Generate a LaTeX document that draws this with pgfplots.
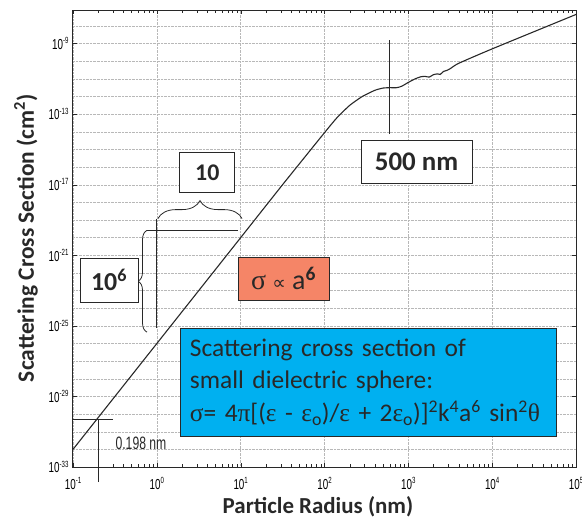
\documentclass[border=0pt]{standalone}
\usepackage{fontspec}
\setmainfont{Carlito}
\newfontfamily\tickfont[FakeStretch=0.68]{Liberation Sans}
\newfontfamily\grk{Liberation Serif}
\newfontfamily\dejavu{DejaVu Sans}
\usepackage{pgfplots}
\pgfplotsset{compat=1.18}
\usetikzlibrary{decorations.pathreplacing}
\definecolor{boxblue}{RGB}{0,176,240}
\definecolor{boxorange}{RGB}{245,133,103}
\definecolor{ink}{RGB}{40,40,40}

\newcommand{\tk}[1]{\pgfmathtruncatemacro\ex{round(#1)}{\tickfont\fontsize{14.5}{14.5}\selectfont 10\raisebox{5.5bp}{\fontsize{9}{9}\selectfont\ex}}}

\begin{document}
\begin{tikzpicture}
\begin{axis}[
  scale only axis, width=503bp, height=457bp,
  xmode=log, ymode=log, log basis x=10, log basis y=10,
  xmin=0.1, xmax=1e5, ymin=1e-33, ymax=8e-8,
  clip=false,
  xtick={0.1,1,10,100,1000,10000,100000},
  minor xtick={0.2,0.3,0.4,0.5,0.6,0.7,0.8,0.9,2,3,4,5,6,7,8,9,20,30,40,50,60,70,80,90,
    200,300,400,500,600,700,800,900,2000,3000,4000,5000,6000,7000,8000,9000,
    20000,30000,40000,50000,60000,70000,80000,90000},
  ytick={1e-33,1e-29,1e-25,1e-21,1e-17,1e-13,1e-9},
  minor ytick={1e-32,1e-31,1e-30,1e-28,1e-27,1e-26,1e-24,1e-23,1e-22,1e-20,1e-19,1e-18,
    1e-16,1e-15,1e-14,1e-12,1e-11,1e-10,1e-8},
  xmajorgrids=true, ymajorgrids=true, yminorgrids=true, xminorgrids=false,
  major grid style={densely dotted, black!28},
  minor grid style={densely dotted, black!28},
  minor y tick style={draw=none},
  axis line style={ink, line width=1bp},
  tick style={ink},
  xticklabel={\tk{\tick}},
  yticklabel={\tk{\tick}},
  xticklabel style={yshift=-7bp},
  yticklabel style={xshift=-1bp},
  xlabel={\fontsize{23}{23}\selectfont\bfseries Particle Radius (nm)},
  ylabel={\fontsize{23.5}{23.5}\selectfont\bfseries Scattering Cross Section (cm\textsuperscript{2})},
  xlabel style={at={(axis description cs:0.487,0)}, anchor=base, yshift=-46bp, text=ink},
  ylabel style={at={(axis description cs:-0.078,0.501)}, anchor=base, text=ink},
]
\addplot[ink, line width=1.1bp, smooth, tension=0.35] coordinates {
  (0.1,1e-32) (1,1e-26) (10,1e-20) (31.6,1e-17) (100,8.91e-15) (141,6.31e-14)
  (200,3.16e-13) (282,1e-12) (398,2.24e-12) (501,3.02e-12) (603,3.16e-12)
  (724,3.16e-12) (832,3.80e-12) (1000,6.31e-12) (1202,1e-11) (1413,1.32e-11)
  (1585,1.38e-11) (1778,1.26e-11) (1995,1.74e-11) (2239,1.91e-11) (2399,1.78e-11)
  (2630,2.63e-11) (2884,3.02e-11) (3162,3.80e-11) (3981,7.59e-11) (10000,5.01e-10)
  (100000,4.47e-8)
};

% 500 nm marker
\draw[ink, line width=0.8bp] (axis cs:589,1.5e-9) -- (axis cs:589,7.9e-15);
\node[draw=ink, fill=white, line width=0.8bp, minimum width=111bp, minimum height=43bp,
  font=\fontsize{27}{27}\selectfont\bfseries, text=ink] at (axis cs:1253,1.95e-16) {500 nm};

% 0.198 nm marker
\draw[ink, line width=0.7bp] (axis cs:0.198,1.4e-34) -- (axis cs:0.198,5.2e-31);
\draw[ink, line width=0.7bp] (axis cs:0.1,5.2e-31) -- (axis cs:0.3,5.2e-31);
\node[font=\tickfont\fontsize{18}{18}\selectfont, text=ink] at (axis cs:0.647,2.3e-32) {0.198 nm};

% slope triangle
\draw[ink, line width=0.8bp, decorate, decoration={brace, amplitude=18bp}]
  (axis cs:1.03,1.2e-19) -- (axis cs:10.4,1.2e-19);
\draw[ink, line width=0.8bp] (axis cs:0.764,2.6e-20) -- (axis cs:9.3,2.6e-20);
\draw[ink, line width=0.8bp] (axis cs:1,1.2e-19) -- (axis cs:1,7.4e-26);
\draw[ink, line width=0.8bp, decorate, decoration={brace, amplitude=9bp}]
  (axis cs:0.764,4.4e-26) -- (axis cs:0.764,2.6e-20);
\node[draw=ink, fill=white, line width=0.8bp, minimum width=55bp, minimum height=40bp,
  font=\fontsize{24}{24}\selectfont\bfseries, text=ink] at (axis cs:4,5e-17) {10};
\node[draw=ink, fill=white, line width=0.8bp, minimum width=58bp, minimum height=44bp,
  font=\fontsize{26}{26}\selectfont\bfseries, text=ink] at (axis cs:0.269,3.8e-23) {10\textsuperscript{6}};

% sigma ~ a^6
\node[draw=ink, fill=boxorange, line width=0.8bp, minimum width=91bp, minimum height=43bp,
  font=\fontsize{28}{28}\selectfont, text=ink] at (axis cs:32.4,4.7e-23)
  {{\grk σ} {\dejavu\fontsize{19}{19}\selectfont ∝} a\textsuperscript{\bfseries 6}};

% formula box
\node[draw=ink, fill=boxblue, line width=0.8bp, minimum width=376bp, minimum height=108bp,
  text width=356bp, align=left, font=\fontsize{25.5}{33}\selectfont, text=ink]
  at (axis cs:330,6.5e-29)
  {Scattering cross section of\\
   small dielectric sphere:\\
   {\grk σ}= 4{\grk π}[({\grk ε} - {\grk ε}\textsubscript{o})/{\grk ε} + 2{\grk ε}\textsubscript{o})]\textsuperscript{2}k\textsuperscript{4}a\textsuperscript{6} sin\textsuperscript{2}{\grk θ}};
\end{axis}
\pgfresetboundingbox
\path[use as bounding box] (-73bp,-55bp) rectangle (509bp,467bp);
\end{tikzpicture}
\end{document}
